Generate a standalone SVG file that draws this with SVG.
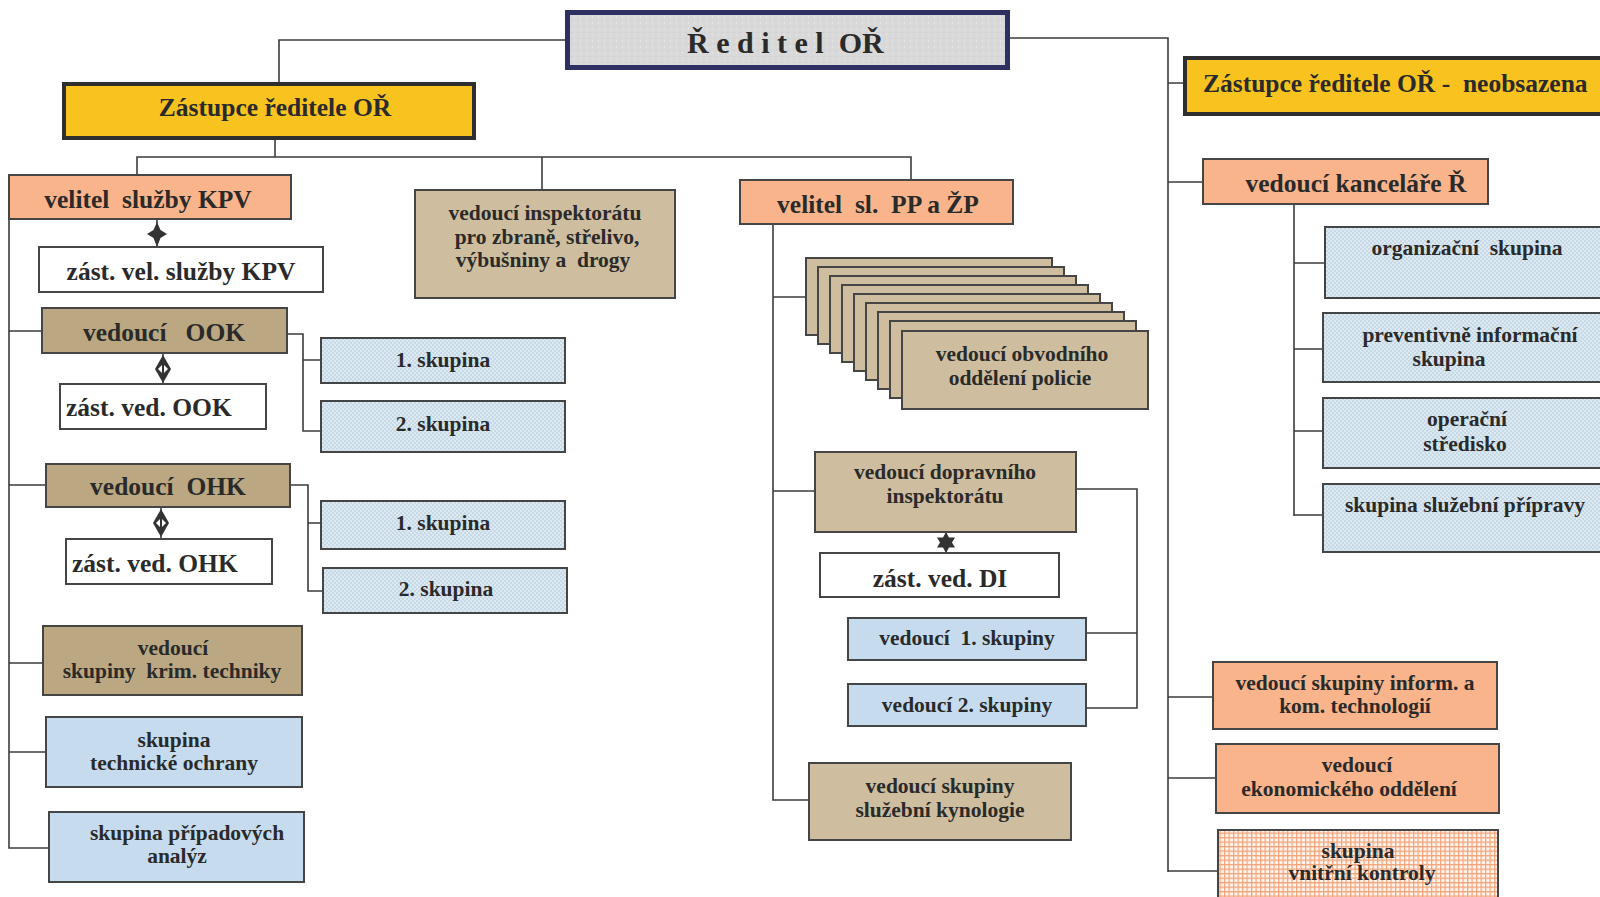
<svg xmlns="http://www.w3.org/2000/svg" width="1600" height="897" viewBox="0 0 1600 897">
<style>
text{font-family:"Liberation Serif","Times New Roman",serif;font-weight:bold;fill:#2a2a2a;}
.b{font-size:25.5px;}
.s{font-size:21.5px;}
.m{text-anchor:middle;}
.box{stroke:#454545;stroke-width:2;}
.sal{fill:#f9b48b;}
.dt{fill:#bba882;}
.lt{fill:#cebe9f;}
.blu{fill:#c6dcee;}
.chk{fill:url(#chk);}
.wh{fill:#ffffff;}
.yel{fill:#f8c31f;stroke:#2e2e2e;stroke-width:4;}
.con{fill:none;stroke:#3c3c3c;stroke-width:1.6;}
.mk{fill:#333;}
</style>
<defs>
<pattern id="chk" width="4" height="4" patternUnits="userSpaceOnUse">
<rect width="4" height="4" fill="#dde9f2"/>
<rect width="2" height="2" fill="#c8d9e6"/>
<rect x="2" y="2" width="2" height="2" fill="#c8d9e6"/>
</pattern>
<pattern id="grid" width="4.5" height="4.5" patternUnits="userSpaceOnUse">
<rect width="4.5" height="4.5" fill="#fff6f0"/>
<path d="M0 0.6H4.5M0.6 0V4.5" stroke="#f3a57b" stroke-width="1.3"/>
</pattern>
<pattern id="gray" width="6" height="6" patternUnits="userSpaceOnUse">
<rect width="6" height="6" fill="#d9d9d9"/>
<rect x="1" y="2" width="2" height="1" fill="#cfcfcf"/>
<rect x="4" y="4" width="1" height="2" fill="#e3e3e3"/>
</pattern>
<g id="dia">
<polygon points="0,-14 8,0 0,14 -8,0" fill="#333"/>
<polygon points="-1,-4 -5,0 -1,4" fill="#fff"/>
<polygon points="1,-4 5,0 1,4" fill="#fff"/>
</g>
</defs>
<rect width="1600" height="897" fill="#ffffff"/>

<g id="connectors">
<path class="con" d="M566 40H279V82"/>
<path class="con" d="M1009 38H1168V872"/>
<path class="con" d="M275 139V157M137 175V157H911V180M542 157V190"/>
<path class="con" d="M9 219V848H49M9 331H42M9 485H46M9 663H43M9 752H46"/>
<path class="con" d="M287 334H303V431H321M303 360H321"/>
<path class="con" d="M290 485H308V591H323M308 523H321"/>
<path class="con" d="M773 224V800H809M773 297H806M773 491H815"/>
<path class="con" d="M1076 489H1137V708H1086M1137 633H1086"/>
<path class="con" d="M1168 83H1185M1168 182H1203M1168 697H1213M1168 778H1216M1168 871H1218"/>
<path class="con" d="M1294 204V516M1294 263H1325M1294 349H1323M1294 431H1323M1294 515H1323"/>
<path class="con" d="M157 220V247M163 353V384M161 507V539M946 532V553"/>
<polygon class="mk" points="157,222 160.5,230 167,234 160.5,238 157,247 153.5,238 147,234 153.5,230"/>
<use href="#dia" x="163" y="369"/>
<use href="#dia" x="161" y="523"/>
<polygon class="mk" points="946,532 949,537.5 955,537.5 952,542.5 955,547.5 949,547.5 946,553 943,547.5 937,547.5 940,542.5 937,537.5 943,537.5"/>
</g>

<g id="reditel">
<rect x="567.5" y="12.5" width="440" height="55" fill="url(#gray)" stroke="#2e3062" stroke-width="5"/>
<text x="687" y="53" style="font-size:30px"><tspan letter-spacing="7.5">Ředitel</tspan><tspan> OŘ</tspan></text>
</g>
<g id="zastupce">
<rect class="yel" x="64" y="84" width="410" height="54"/>
<text class="b m" x="275" y="116">Zástupce ředitele OŘ</text>
</g>
<g id="zastupce2">
<rect class="yel" x="1185" y="58" width="430" height="56"/>
<text class="b" x="1203" y="92" xml:space="preserve">Zástupce ředitele OŘ -  neobsazena</text>
</g>

<g id="kpv"><rect class="box sal" x="9" y="175" width="282" height="44"/><text class="b m" x="148" y="208" xml:space="preserve">velitel  služby KPV</text></g>
<g id="zast-kpv"><rect class="box wh" x="39" y="247" width="284" height="45"/><text class="b m" x="181" y="280">zást. vel. služby KPV</text></g>
<g id="ook"><rect class="box dt" x="42" y="308" width="245" height="45"/><text class="b m" x="164" y="341" xml:space="preserve">vedoucí   OOK</text></g>
<g id="zast-ook"><rect class="box wh" x="60" y="384" width="206" height="45"/><text class="b" x="66" y="416">zást. ved. OOK</text></g>
<g id="ook-1"><rect class="box chk" x="321" y="338" width="244" height="45"/><text class="s m" x="443" y="367">1. skupina</text></g>
<g id="ook-2"><rect class="box chk" x="321" y="401" width="244" height="51"/><text class="s m" x="443" y="431">2. skupina</text></g>
<g id="ohk"><rect class="box dt" x="46" y="464" width="244" height="43"/><text class="b m" x="168" y="495" xml:space="preserve">vedoucí  OHK</text></g>
<g id="zast-ohk"><rect class="box wh" x="66" y="539" width="206" height="45"/><text class="b" x="72" y="572">zást. ved. OHK</text></g>
<g id="ohk-1"><rect class="box chk" x="321" y="501" width="244" height="48"/><text class="s m" x="443" y="530">1. skupina</text></g>
<g id="ohk-2"><rect class="box chk" x="323" y="568" width="244" height="45"/><text class="s m" x="446" y="596">2. skupina</text></g>
<g id="krim"><rect class="box dt" x="43" y="626" width="259" height="69"/><text class="s m" x="173" y="655">vedoucí</text><text class="s m" x="172" y="678" xml:space="preserve">skupiny  krim. techniky</text></g>
<g id="tech"><rect class="box blu" x="46" y="717" width="256" height="70"/><text class="s m" x="174" y="747">skupina</text><text class="s m" x="174" y="770">technické ochrany</text></g>
<g id="pripad"><rect class="box blu" x="49" y="812" width="255" height="70"/><text class="s m" x="187" y="840">skupina případových</text><text class="s m" x="177" y="863">analýz</text></g>

<g id="inspektorat"><rect class="box lt" x="415" y="190" width="260" height="108"/><text class="s m" x="545" y="220">vedoucí inspektorátu</text><text class="s m" x="547" y="244">pro zbraně, střelivo,</text><text class="s m" x="543" y="267" xml:space="preserve">výbušniny a  drogy</text></g>

<g id="pp"><rect class="box sal" x="740" y="180" width="273" height="44"/><text class="b m" x="878" y="213" xml:space="preserve">velitel  sl.  PP a ŽP</text></g>
<g id="obvod">
<rect class="box lt" x="806" y="258" width="246" height="77"/>
<rect class="box lt" x="818" y="267" width="246" height="77"/>
<rect class="box lt" x="830" y="276" width="246" height="77"/>
<rect class="box lt" x="842" y="285" width="246" height="77"/>
<rect class="box lt" x="854" y="294" width="246" height="77"/>
<rect class="box lt" x="866" y="303" width="246" height="77"/>
<rect class="box lt" x="878" y="312" width="246" height="77"/>
<rect class="box lt" x="890" y="321" width="246" height="77"/>
<rect class="box lt" x="902" y="331" width="246" height="78"/>
<text class="s m" x="1022" y="361">vedoucí obvodního</text><text class="s m" x="1020" y="385">oddělení policie</text>
</g>
<g id="doprav"><rect class="box lt" x="815" y="452" width="261" height="80"/><text class="s m" x="945" y="479">vedoucí dopravního</text><text class="s m" x="945" y="503">inspektorátu</text></g>
<g id="zast-di"><rect class="box wh" x="820" y="553" width="239" height="44"/><text class="b m" x="940" y="587">zást. ved. DI</text></g>
<g id="ved1"><rect class="box blu" x="848" y="618" width="238" height="42"/><text class="s m" x="967" y="645" xml:space="preserve">vedoucí  1. skupiny</text></g>
<g id="ved2"><rect class="box blu" x="848" y="684" width="238" height="42"/><text class="s m" x="967" y="712">vedoucí 2. skupiny</text></g>
<g id="kyno"><rect class="box lt" x="809" y="763" width="262" height="77"/><text class="s m" x="940" y="793">vedoucí skupiny</text><text class="s m" x="940" y="817">služební kynologie</text></g>

<g id="kancelar"><rect class="box sal" x="1203" y="159" width="285" height="45"/><text class="b m" x="1356" y="192">vedoucí kanceláře Ř</text></g>
<g id="org"><rect class="box chk" x="1325" y="227" width="290" height="71"/><text class="s m" x="1467" y="255" xml:space="preserve">organizační  skupina</text></g>
<g id="prevent"><rect class="box chk" x="1323" y="313" width="290" height="69"/><text class="s m" x="1470" y="342">preventivně informační</text><text class="s m" x="1449" y="366">skupina</text></g>
<g id="operacni"><rect class="box chk" x="1323" y="398" width="290" height="70"/><text class="s m" x="1467" y="426">operační</text><text class="s m" x="1465" y="451">středisko</text></g>
<g id="priprava"><rect class="box chk" x="1323" y="484" width="290" height="68"/><text class="s m" x="1465" y="512">skupina služební přípravy</text></g>
<g id="inform"><rect class="box sal" x="1213" y="662" width="284" height="67"/><text class="s m" x="1355" y="690">vedoucí skupiny inform. a</text><text class="s m" x="1355" y="713">kom. technologií</text></g>
<g id="ekonom"><rect class="box sal" x="1216" y="744" width="283" height="69"/><text class="s m" x="1357" y="772">vedoucí</text><text class="s m" x="1349" y="796">ekonomického oddělení</text></g>
<g id="vnitrni"><rect class="box" fill="url(#grid)" x="1218" y="830" width="280" height="80"/><text class="s m" x="1358" y="858">skupina</text><text class="s m" x="1362" y="880">vnitřní kontroly</text></g>
</svg>
